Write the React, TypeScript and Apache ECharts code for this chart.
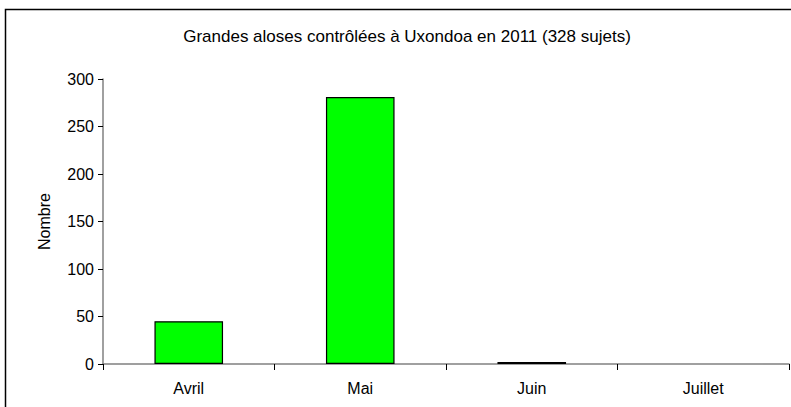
import React, { useEffect, useRef } from "react";
import * as echarts from "echarts";

const categories = ["Avril", "Mai", "Juin", "Juillet"];
const counts = [45, 281, 2, 0];
const titleText = "Grandes aloses contrôlées à Uxondoa en 2011 (328 sujets)";
const yAxisName = "Nombre";

export default function App() {
  const ref = useRef<HTMLDivElement>(null);
  useEffect(() => {
    if (!ref.current) return;
    const chart = echarts.init(ref.current, null, { renderer: "svg" });
    const font = "'Liberation Sans', Arial, sans-serif";
    chart.setOption({
      animation: false,
      backgroundColor: "#ffffff",
      textStyle: { fontFamily: font },
      title: {
        text: titleText,
        left: 402,
        top: 23,
        textAlign: "center",
        textStyle: { fontSize: 17, fontWeight: "normal", color: "#000", fontFamily: font },
      },
      graphic: [
        {
          type: "rect",
          shape: { x: 5.5, y: 9.5, width: 900, height: 600 },
          style: { fill: "none", stroke: "#000", lineWidth: 1.5 },
          silent: true,
        },
      ],
      grid: { left: 103, right: 2, top: 79, bottom: 43 },
      xAxis: {
        type: "category",
        data: categories,
        axisLine: { lineStyle: { color: "#808080", width: 1.5 } },
        axisTick: { show: true, length: 6, alignWithLabel: false, lineStyle: { color: "#000" } },
        axisLabel: { color: "#000", fontSize: 16, margin: 16, fontFamily: font },
      },
      yAxis: {
        type: "value",
        min: 0,
        max: 300,
        interval: 50,
        name: yAxisName,
        nameLocation: "middle",
        nameGap: 51,
        nameRotate: 90,
        nameTextStyle: { color: "#000", fontSize: 16, fontFamily: font },
        splitLine: { show: false },
        axisLine: { show: true, lineStyle: { color: "#808080", width: 1.5 } },
        axisTick: { show: true, length: 5, lineStyle: { color: "#000" } },
        axisLabel: { color: "#000", fontSize: 16, margin: 9, fontFamily: font },
      },
      series: [
        {
          type: "bar",
          data: counts.map((v) => (v === 0 ? { value: v, itemStyle: { borderWidth: 0 } } : v)),
          barCategoryGap: "60%",
          itemStyle: { color: "#00ff00", borderColor: "#000", borderWidth: 1.2 },
        },
      ],
    });
    return () => chart.dispose();
  }, []);
  return <div ref={ref} style={{ width: 791, height: 407, position: "absolute", left: 0, top: 0 }} />;
}
